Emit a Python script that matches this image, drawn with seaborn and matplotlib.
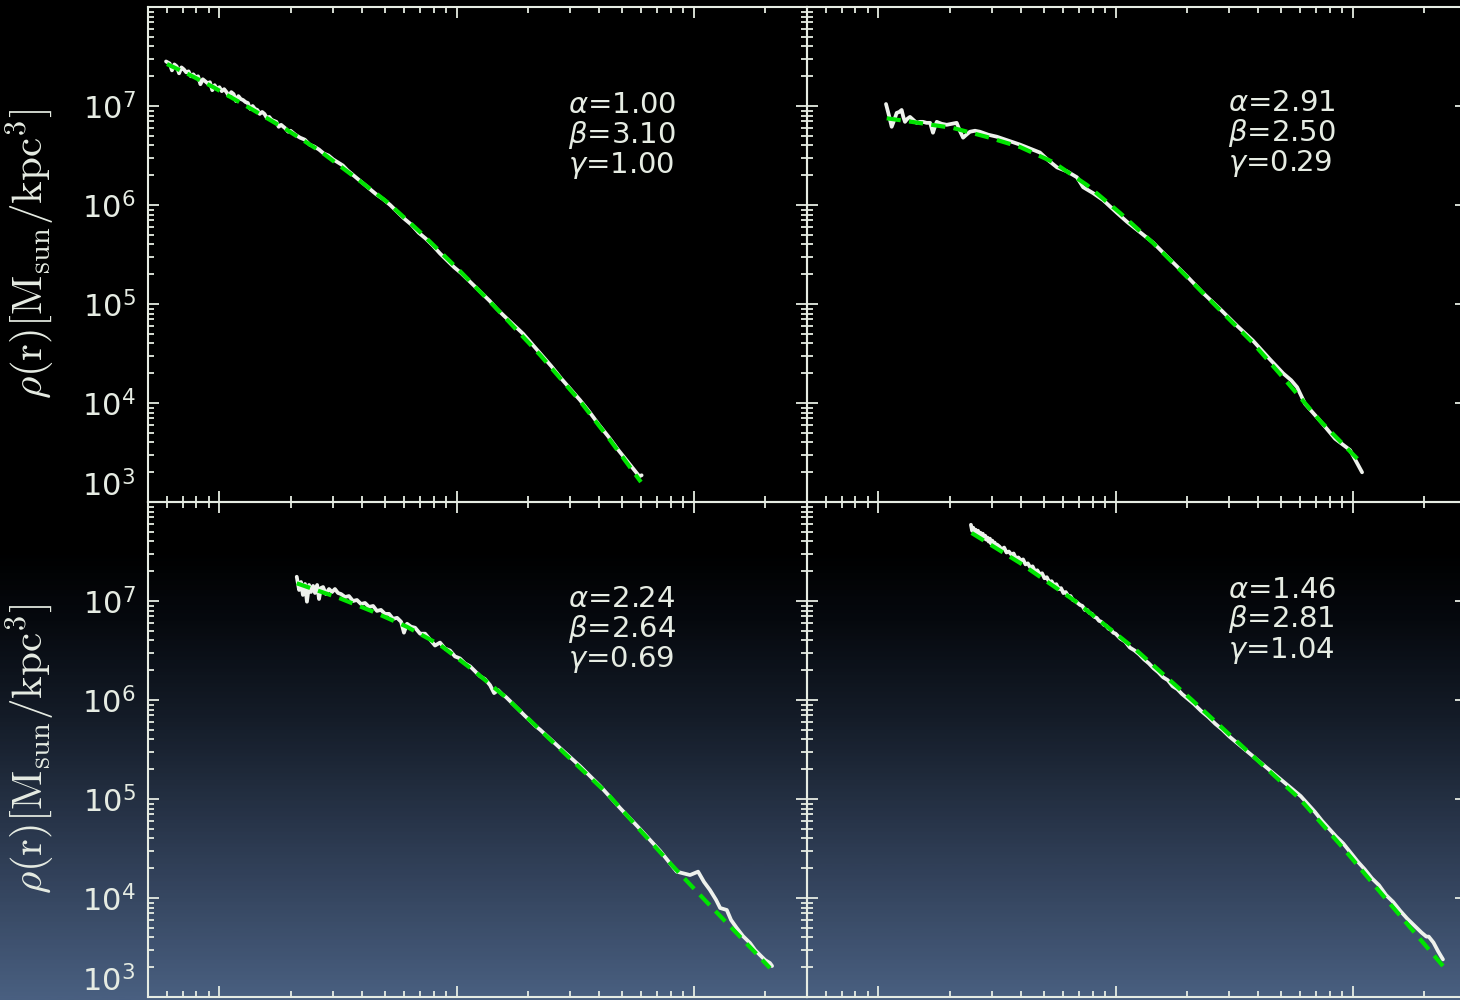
import numpy as np
import pandas as pd
import matplotlib
matplotlib.use("Agg")
import matplotlib.pyplot as plt
import seaborn as sns
from matplotlib.colors import LinearSegmentedColormap
from matplotlib.ticker import LogLocator, NullFormatter, FixedLocator

# ---------------- data (log10 r [kpc], log10 rho [Msun/kpc^3]) ----------------
alpha_vals = [1.00, 2.91, 2.24, 1.46]
beta_vals = [3.10, 2.50, 2.64, 2.81]
gamma_vals = [1.00, 0.29, 0.69, 1.04]

tl_fit_logr = [-1.221, -1.124, -1.027, -0.858, -0.715, -0.576, -0.407, -0.293, -0.154, 0.014, 0.170, 0.352, 0.520, 0.647, 0.777]
tl_fit_logrho = [7.424, 7.313, 7.192, 6.960, 6.758, 6.545, 6.242, 6.030, 5.727, 5.333, 4.950, 4.485, 4.020, 3.626, 3.202]
tl_obs_logr = [-1.225, -1.21, -1.20, -1.19, -1.18, -1.17, -1.16, -1.15, -1.14, -1.13, -1.12, -1.11, -1.10, -1.09, -1.08,
               -1.07, -1.06, -1.05, -1.04, -1.03, -1.02, -1.01, -1.00, -0.99, -0.98, -0.97, -0.96, -0.95, -0.94, -0.93,
               -0.92, -0.91, -0.90, -0.89, -0.88, -0.87, -0.86, -0.85, -0.84, -0.83, -0.82, -0.81, -0.80, -0.79, -0.78,
               -0.77, -0.76, -0.75, -0.74, -0.73, -0.72, -0.71, -0.70, -0.68, -0.66, -0.64, -0.62, -0.60, -0.58, -0.56,
               -0.54, -0.52, -0.50, -0.48, -0.46, -0.44, -0.42, -0.40, -0.37, -0.34, -0.31, -0.28, -0.25, -0.22, -0.19,
               -0.16, -0.13, -0.10, -0.07, -0.04, -0.01, 0.02, 0.05, 0.08, 0.11, 0.14, 0.17, 0.20, 0.24, 0.28, 0.32,
               0.36, 0.40, 0.44, 0.48, 0.52, 0.56, 0.60, 0.64, 0.68, 0.72, 0.75, 0.77, 0.78]
tl_obs_logrho = [7.45, 7.43, 7.36, 7.42, 7.40, 7.33, 7.39, 7.37, 7.34, 7.35, 7.30, 7.32, 7.29, 7.30, 7.22,
                 7.27, 7.25, 7.23, 7.24, 7.16, 7.21, 7.17, 7.19, 7.15, 7.17, 7.14, 7.10, 7.14, 7.12, 7.05,
                 7.10, 7.07, 7.06, 7.04, 7.03, 6.97, 7.00, 6.97, 6.96, 6.92, 6.94, 6.92, 6.88, 6.89, 6.86,
                 6.85, 6.84, 6.79, 6.81, 6.79, 6.77, 6.74, 6.75, 6.71, 6.68, 6.66, 6.61, 6.59, 6.56, 6.52,
                 6.50, 6.46, 6.43, 6.40, 6.35, 6.31, 6.27, 6.23, 6.17, 6.11, 6.06, 6.00, 5.93, 5.86, 5.80,
                 5.72, 5.66, 5.59, 5.51, 5.44, 5.37, 5.31, 5.24, 5.17, 5.10, 5.03, 4.95, 4.88, 4.79, 4.70, 4.59,
                 4.48, 4.37, 4.25, 4.14, 4.03, 3.91, 3.78, 3.66, 3.53, 3.41, 3.32, 3.26, 3.27]

tr_fit_logr = [-0.965, -0.854, -0.685, -0.542, -0.403, -0.264, -0.121, 0.019, 0.158, 0.301, 0.440, 0.579, 0.723, 0.862, 1.030]
tr_fit_logrho = [6.876, 6.838, 6.778, 6.687, 6.586, 6.434, 6.202, 5.919, 5.616, 5.273, 4.939, 4.606, 4.21, 3.82, 3.41]
tr_obs_logr = [-0.968, -0.955, -0.944, -0.933, -0.923, -0.912, -0.902, -0.895, -0.888, -0.878, -0.867, -0.853, -0.839,
               -0.825, -0.812, -0.797, -0.782, -0.776, -0.770, -0.762, -0.754, -0.733, -0.712, -0.691, -0.670, -0.657,
               -0.643, -0.629, -0.614, -0.593, -0.572, -0.537, -0.501, -0.452, -0.403, -0.361, -0.319, -0.283, -0.247,
               -0.205, -0.163, -0.137, -0.095, -0.053, 0.006, 0.048, 0.090, 0.158, 0.229, 0.301, 0.369, 0.440, 0.512,
               0.579, 0.651, 0.706, 0.740, 0.765, 0.799, 0.862, 0.925, 0.988, 1.039]
tr_obs_logrho = [7.02, 6.90, 6.79, 6.86, 6.93, 6.94, 6.96, 6.89, 6.84, 6.87, 6.89, 6.86, 6.83,
                 6.84, 6.84, 6.83, 6.83, 6.78, 6.73, 6.79, 6.84, 6.82, 6.81, 6.82, 6.83, 6.75,
                 6.68, 6.71, 6.74, 6.75, 6.74, 6.71, 6.69, 6.65, 6.61, 6.57, 6.53, 6.45, 6.38,
                 6.34, 6.28, 6.18, 6.12, 6.05, 5.92, 5.83, 5.75, 5.62, 5.45, 5.28, 5.11, 4.95, 4.78,
                 4.63, 4.44, 4.30, 4.23, 4.16, 3.99, 3.82, 3.64, 3.525, 3.30]

bl_fit_logr = [-0.674, -0.492, -0.352, -0.210, -0.070, 0.069, 0.211, 0.352, 0.491, 0.633, 0.773, 0.912, 1.054, 1.195, 1.321]
bl_fit_logrho = [7.179, 7.027, 6.892, 6.740, 6.556, 6.303, 6.020, 5.697, 5.38, 5.061, 4.687, 4.32, 3.96, 3.609, 3.293]
bl_obs_logr = [-0.674, -0.664, -0.656, -0.648, -0.639, -0.631, -0.622, -0.614, -0.605, -0.597, -0.588, -0.580, -0.572,
               -0.563, -0.551, -0.538, -0.525, -0.513, -0.500, -0.487, -0.470, -0.454, -0.437, -0.420, -0.403, -0.386,
               -0.369, -0.352, -0.336, -0.319, -0.302, -0.285, -0.268, -0.251, -0.234, -0.222, -0.209, -0.192, -0.175,
               -0.154, -0.133, -0.112, -0.091, -0.070, -0.049, -0.028, -0.007, 0.014, 0.035, 0.057, 0.078, 0.099,
               0.120, 0.141, 0.158, 0.175, 0.191, 0.208, 0.225, 0.246, 0.267, 0.288, 0.310, 0.331, 0.352, 0.436,
               0.520, 0.605, 0.689, 0.773, 0.858, 0.928, 0.984, 1.018, 1.043, 1.068, 1.094, 1.111, 1.139, 1.157,
               1.181, 1.207, 1.237, 1.258, 1.279, 1.300, 1.321, 1.330]
bl_obs_logrho = [7.245, 7.111, 7.192, 7.061, 7.172, 6.993, 7.162, 7.091, 7.152, 7.081, 7.162, 7.020, 7.131,
                 7.141, 7.071, 7.121, 7.091, 7.121, 7.081, 7.07, 7.04, 7.05, 7.00, 7.01, 6.97, 6.98,
                 6.94, 6.95, 6.90, 6.91, 6.87, 6.87, 6.82, 6.83, 6.79, 6.68, 6.77, 6.74, 6.73,
                 6.67, 6.67, 6.61, 6.55, 6.58, 6.52, 6.50, 6.44, 6.42, 6.37, 6.34, 6.29, 6.24,
                 6.21, 6.15, 6.07, 6.10, 6.06, 6.03, 5.99, 5.94, 5.89, 5.84, 5.79, 5.74, 5.70, 5.515,
                 5.333, 5.131, 4.909, 4.697, 4.475, 4.266, 4.232, 4.266, 4.162, 4.081, 3.980, 3.899, 3.879, 3.778,
                 3.697, 3.616, 3.545, 3.475, 3.424, 3.374, 3.343, 3.313]

br_fit_logr = [-0.607, -0.403, -0.171, 0.082, 0.322, 0.546, 0.777, 0.959, 1.136, 1.380]
br_fit_logrho = [7.687, 7.384, 7.000, 6.515, 6.000, 5.505, 5.000, 4.505, 4.000, 3.313]
br_obs_logr = [-0.610, -0.605, -0.600, -0.595, -0.590, -0.585, -0.580, -0.575, -0.570, -0.565, -0.560, -0.555,
               -0.550, -0.545, -0.540, -0.535, -0.530, -0.525, -0.520, -0.515, -0.510, -0.505, -0.500,
               -0.49, -0.48, -0.47, -0.46, -0.45, -0.44, -0.43, -0.42, -0.41, -0.40,
               -0.39, -0.38, -0.37, -0.36, -0.35, -0.34, -0.33, -0.32, -0.31, -0.30,
               -0.29, -0.28, -0.27, -0.26, -0.25, -0.24, -0.23, -0.22, -0.21, -0.20,
               -0.19, -0.18, -0.17, -0.16, -0.15, -0.14, -0.13, -0.12, -0.11, -0.10,
               -0.09, -0.08, -0.07, -0.06, -0.05, -0.04, -0.03, -0.02, -0.01, 0.00,
               0.02, 0.04, 0.06, 0.08, 0.10, 0.12, 0.14, 0.16, 0.18, 0.20, 0.22, 0.24, 0.26, 0.28, 0.30,
               0.33, 0.36, 0.39, 0.42, 0.45, 0.48, 0.51, 0.54, 0.57, 0.60, 0.63, 0.66, 0.69, 0.72, 0.75,
               0.78, 0.81, 0.84, 0.87, 0.90, 0.93, 0.96, 0.99, 1.02, 1.05, 1.08, 1.11, 1.14, 1.17, 1.20,
               1.23, 1.26, 1.29, 1.31, 1.32, 1.34, 1.36, 1.38]
br_obs_logrho = [7.77, 7.71, 7.74, 7.69, 7.72, 7.68, 7.71, 7.66, 7.69, 7.67, 7.68, 7.63,
                 7.66, 7.62, 7.64, 7.60, 7.63, 7.58, 7.61, 7.57, 7.59, 7.55, 7.57,
                 7.55, 7.52, 7.54, 7.49, 7.50, 7.47, 7.48, 7.43, 7.44, 7.41,
                 7.42, 7.37, 7.38, 7.34, 7.35, 7.30, 7.31, 7.27, 7.28, 7.23,
                 7.24, 7.19, 7.20, 7.16, 7.17, 7.12, 7.13, 7.08, 7.09, 7.05,
                 7.05, 7.01, 7.00, 6.98, 6.96, 6.95, 6.91, 6.91, 6.88, 6.87,
                 6.84, 6.83, 6.80, 6.79, 6.76, 6.75, 6.72, 6.71, 6.68, 6.67,
                 6.62, 6.59, 6.53, 6.50, 6.46, 6.41, 6.37, 6.32, 6.28, 6.23, 6.20, 6.14, 6.11, 6.06, 6.02,
                 5.96, 5.89, 5.83, 5.76, 5.70, 5.63, 5.57, 5.51, 5.45, 5.39, 5.33, 5.27, 5.21, 5.15, 5.09,
                 5.03, 4.95, 4.87, 4.78, 4.70, 4.62, 4.55, 4.46, 4.37, 4.29, 4.20, 4.13, 4.03, 3.96, 3.87,
                 3.79, 3.72, 3.65, 3.61, 3.61, 3.55, 3.46, 3.38]

ytick_vals = [1e3, 1e4, 1e5, 1e6, 1e7, 1e8]
ytick_text = [r"$10^{3}$", r"$10^{4}$", r"$10^{5}$", r"$10^{6}$", r"$10^{7}$", ""]
xlim = (0.05, 30.0)
ylim = (1e3, 1e8)
ylabel = r"$\rho(\mathrm{r})[\mathrm{M_{sun}/kpc^{3}}]$"

# ---------------- style ----------------
sns.set_style("ticks")
plt.rcParams["font.family"] = ["DejaVu Sans"]
FG = "#e6ece3"
WHITE = "#eef1ec"
GREEN = "#00e400"

fig = plt.figure(figsize=(14.6, 10), dpi=100)
fig.patch.set_facecolor("black")

# background gradient
bg = fig.add_axes([0, 0, 1, 1], zorder=-10)
cmap = LinearSegmentedColormap.from_list(
    "bg", [(0.0, "#000000"), (0.55, "#000000"), (0.62, "#06090e"), (0.72, "#141c28"),
           (0.85, "#2d3b52"), (1.0, "#495f80")])
grad = np.linspace(0, 1, 600).reshape(-1, 1)
bg.imshow(grad, aspect="auto", cmap=cmap, extent=[0, 1, 0, 1], origin="upper")
bg.set_axis_off()

W = 659 / 1460
H = 0.495
positions = [(148 / 1460, 0.498), (807 / 1460, 0.498), (148 / 1460, 0.003), (807 / 1460, 0.003)]
obs = [(tl_obs_logr, tl_obs_logrho), (tr_obs_logr, tr_obs_logrho),
       (bl_obs_logr, bl_obs_logrho), (br_obs_logr, br_obs_logrho)]
fits = [(tl_fit_logr, tl_fit_logrho), (tr_fit_logr, tr_fit_logrho),
        (bl_fit_logr, bl_fit_logrho), (br_fit_logr, br_fit_logrho)]
text_pos = [(0.637, 0.739), (0.639, 0.743), (0.637, 0.741), (0.639, 0.760)]

for i, (x0, y0) in enumerate(positions):
    ax = fig.add_axes([x0, y0, W, H])
    ax.set_facecolor((0, 0, 0, 0))
    ax.set_xscale("log")
    ax.set_yscale("log")

    o = pd.DataFrame({"r": 10 ** np.array(obs[i][0]), "rho": 10 ** np.array(obs[i][1])})
    f = pd.DataFrame({"r": 10 ** np.array(fits[i][0]), "rho": 10 ** np.array(fits[i][1])})
    sns.lineplot(data=o, x="r", y="rho", ax=ax, color=WHITE, lw=2.7, sort=False,
                 estimator=None, zorder=3)
    sns.lineplot(data=f, x="r", y="rho", ax=ax, color=GREEN, lw=3.0, sort=False,
                 estimator=None, linestyle=(0, (3.4, 2.0)), zorder=4)

    ax.set_xlim(*xlim)
    ax.set_ylim(*ylim)
    ax.set_xlabel("")
    ax.set_ylabel("")

    for s in ax.spines.values():
        s.set_color(FG)
        s.set_linewidth(1.5)
    ax.xaxis.set_major_locator(FixedLocator([0.1, 1, 10]))
    ax.xaxis.set_minor_locator(LogLocator(base=10, subs=np.arange(2, 10), numticks=20))
    ax.xaxis.set_minor_formatter(NullFormatter())
    ax.yaxis.set_minor_locator(LogLocator(base=10, subs=np.arange(2, 10), numticks=20))
    ax.yaxis.set_minor_formatter(NullFormatter())
    ax.tick_params(which="both", direction="in", top=True, right=True, colors=FG,
                   width=1.3, labelbottom=False)
    ax.tick_params(which="major", length=8, pad=9, labelsize=22)
    ax.tick_params(which="minor", length=4.5)

    if i in (0, 2):
        ax.set_yticks(ytick_vals, labels=ytick_text)
        for lab in ax.get_yticklabels():
            lab.set_color(FG)
        ax.get_yticklabels()[0].set_verticalalignment("bottom")
        ax.set_ylabel(ylabel, fontsize=31, color=FG, math_fontfamily="cm")
        ax.yaxis.set_label_coords(-0.138, 0.5)
    else:
        ax.set_yticks(ytick_vals, labels=[""] * len(ytick_vals))

    tx, ty = text_pos[i]
    block = "\n".join([r"$\alpha$=%.2f" % alpha_vals[i], r"$\beta$=%.2f" % beta_vals[i],
                       r"$\gamma$=%.2f" % gamma_vals[i]])
    ax.text(tx, ty, block, transform=ax.transAxes, fontsize=21, color=FG,
            ha="left", va="center", linespacing=0.97)

fig.savefig("out.png", dpi=100, facecolor=fig.get_facecolor())
